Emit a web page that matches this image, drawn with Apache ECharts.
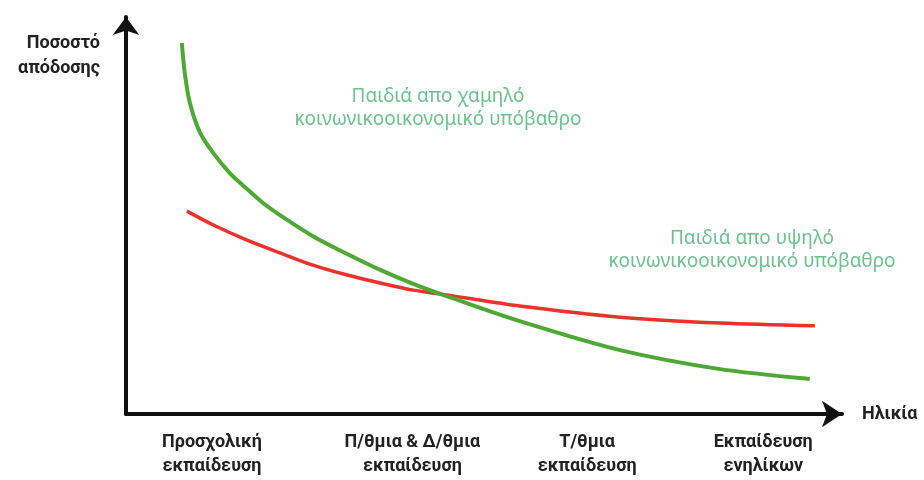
<!DOCTYPE html>
<html>
<head>
<meta charset="utf-8">
<script src="https://cdn.jsdelivr.net/npm/echarts@6/dist/echarts.min.js"></script>
<style>html,body{margin:0;padding:0;background:#fff;}#c{width:924px;height:480px;}</style>
</head>
<body>
<div id="c"></div>
<script>
// Stage positions along the age axis (0-100) and their labels
var stagePositions = [12, 40, 64.4, 89];
var stageLabels = ['Προσχολική\nεκπαίδευση', 'Π/θμια & Δ/θμια\nεκπαίδευση', 'Τ/θμια\nεκπαίδευση', 'Εκπαίδευση\nενηλίκων'];

// Low socioeconomic background (green) [age, return]
var lowSES = [[7.8,93.4],[8.2,86.0],[8.9,78.5],[10.3,71.0],[12.2,65.7],[14.5,60.7],[16.9,56.7],[19.1,53.2],[21.5,50.1],[26.1,44.8],[30.9,40.3],[35.5,36.3],[40.1,32.8],[44.8,29.7],[55.0,23.4],[69.0,16.1],[83.0,11.3],[95.5,8.8]];
// High socioeconomic background (red)
var highSES = [[8.5,51.1],[12.2,47.6],[16.9,43.8],[21.5,40.6],[26.1,37.5],[30.9,35.0],[35.5,33.0],[40.1,31.2],[44.8,30.0],[55.0,27.2],[69.0,24.4],[83.0,22.9],[96.2,22.2]];

var lowLabel = 'Παιδιά απο χαμηλό\nκοινωνικοοικονομικό υπόβαθρο';
var highLabel = 'Παιδιά απο υψηλό\nκοινωνικοοικονομικό υπόβαθρο';

var chart = echarts.init(document.getElementById('c'));
var labelColor = '#6cc28e';
chart.setOption({
  animation: false,
  grid: {left: 126, right: 82, top: 17, bottom: 66},
  xAxis: {
    type: 'value', min: 0, max: 100,
    name: 'Ηλικία', nameLocation: 'end', nameGap: 20,
    nameTextStyle: {fontFamily: 'Roboto', fontWeight: 'bold', fontSize: 18, color: '#222', verticalAlign: 'middle'},
    axisLine: {show: true, symbol: ['none', 'arrow'], symbolSize: [20, 20], lineStyle: {color: '#111', width: 4}},
    axisTick: {show: false},
    splitLine: {show: false},
    axisLabel: {
      customValues: stagePositions,
      formatter: function (v) { var i = stagePositions.indexOf(v); return i >= 0 ? stageLabels[i] : ''; },
      fontFamily: 'Roboto', fontWeight: 'bold', fontSize: 18, color: '#222', lineHeight: 24, margin: 16
    }
  },
  yAxis: {
    type: 'value', min: 0, max: 100,
    name: 'Ποσοστό\nαπόδοσης', nameLocation: 'end', nameGap: -14,
    nameTextStyle: {fontFamily: 'Roboto', fontWeight: 'bold', fontSize: 18, color: '#222', align: 'right', verticalAlign: 'top', lineHeight: 25, padding: [0, 26, 0, 0]},
    axisLine: {show: true, symbol: ['none', 'arrow'], symbolSize: [20, 18], lineStyle: {color: '#111', width: 4}},
    axisTick: {show: false},
    axisLabel: {show: false},
    splitLine: {show: false}
  },
  series: [
    {type: 'line', name: highLabel, data: highSES, smooth: 0.3, showSymbol: false,
     lineStyle: {color: '#e8322a', width: 3.5}, z: 2},
    {type: 'line', name: lowLabel, data: lowSES, smooth: 0.3, showSymbol: false,
     lineStyle: {color: '#4caa34', width: 4}, z: 3}
  ],
  graphic: [
    {type: 'text', x: 438, y: 108, style: {text: lowLabel, fill: labelColor, fontFamily: 'Noto Sans', fontSize: 19, lineHeight: 23, align: 'center', verticalAlign: 'middle'}},
    {type: 'text', x: 752, y: 250, style: {text: highLabel, fill: labelColor, fontFamily: 'Noto Sans', fontSize: 19, lineHeight: 23, align: 'center', verticalAlign: 'middle'}}
  ]
});
</script>
</body>
</html>
